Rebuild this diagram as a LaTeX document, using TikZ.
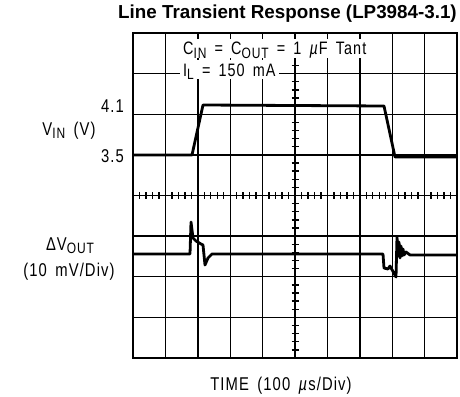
\documentclass[tikz,border=0pt]{standalone}
\usepackage{fontspec}
\setmainfont{Liberation Sans}
\newfontfamily\plotfont[FakeStretch=0.8,LetterSpace=6,WordSpace=1.6]{Liberation Sans}
\newcommand\lowsub[1]{\raisebox{-3.5pt}{\fontsize{15}{17}\selectfont #1}}
\newcommand\micro{\textit{µ}}

\tikzset{
  plotlabel/.style={font=\plotfont\fontsize{18.5}{21}\selectfont, inner sep=0pt},
  legendbox/.style={plotlabel, font=\plotfont\fontsize{18}{20}\selectfont, fill=white, anchor=base west, inner xsep=3pt, inner ysep=1.5pt, text height=14.5pt, text depth=1.5pt},
  gridline/.style={line width=1.4pt},
  trace/.style={line width=2.8pt, line join=round},
}

\begin{document}
\begin{tikzpicture}[x=1pt,y=-1pt]
\useasboundingbox (0,0) rectangle (460,396);

% Title
\node[font=\bfseries\fontsize{18.8}{20}\selectfont, inner sep=0pt, anchor=base] (title) at (287.5,18.5) {Line Transient Response (LP3984-3.1)};

% Grid (10 x 8 divisions)
\foreach \i in {1,...,9}
  \draw[gridline] (133+\i*32.4,33) -- (133+\i*32.4,358);
\foreach \j in {1,...,7}
  \draw[gridline] (133,33+\j*40.625) -- (457,33+\j*40.625);
\draw[line width=2pt] (133,33) rectangle (457,358);

% Center ticks
\foreach \i in {1,...,39}
  \draw[gridline] (291.5,33+\i*8.125) -- (298.5,33+\i*8.125);
\foreach \i in {1,...,49}
  \draw[gridline] (133+\i*6.48,192) -- (133+\i*6.48,199);

% Legend
\node[legendbox] (cin) at (180,55) {C\lowsub{IN} = C\lowsub{OUT} = 1 \micro F Tant};
\node[legendbox] (il) at (180,76) {I\lowsub{L} = 150 mA};

% V_IN trace
\draw[trace] (133,155) -- (192,155) -- (203,105) -- (384,106) -- (395,157) -- (457,157);

% Delta V_OUT trace
\draw[trace] (133,254) -- (190,254) -- (191,222) -- (193,238) -- (196,241) -- (201,244) -- (203,245)
  -- (205,265) -- (208,258) -- (210,256) -- (212,254) -- (383,254) -- (384,268) -- (388,269)
  -- (390,266) -- (396,277) -- (397,237) -- (398,256) -- (399,242) -- (400,258) -- (401,246)
  -- (402,256) -- (403,249) -- (404,255) -- (406,252) -- (410,255) -- (457,255);

% Axis labels
\node[plotlabel, anchor=base east] (vhigh) at (124,112) {4.1};
\node[plotlabel, anchor=base east] (vlow) at (124,162) {3.5};
\node[plotlabel, anchor=base] (vin) at (69,135) {V\lowsub{IN} (V)};
\node[plotlabel, anchor=base] (dvout) at (70,250) {ΔV\lowsub{OUT}};
\node[plotlabel, anchor=base] (dvdiv) at (69,276) {(10 mV/Div)};
\node[plotlabel, anchor=base] (time) at (281,390) {TIME (100 \micro s/Div)};

\end{tikzpicture}
\end{document}
